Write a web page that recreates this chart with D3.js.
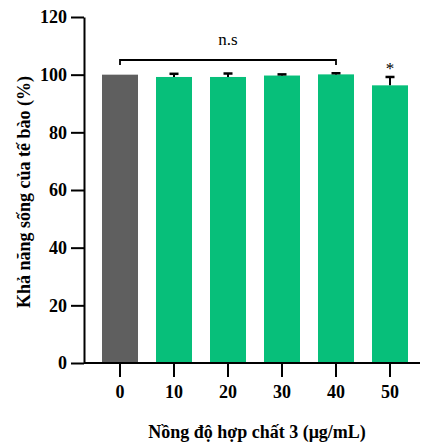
<!DOCTYPE html>
<html><head><meta charset="utf-8">
<script src="https://cdn.jsdelivr.net/npm/d3@7"></script>
<style>body{margin:0;background:#fff}svg{display:block}</style>
</head><body>
<svg id="c" width="424" height="445"></svg>
<script>
const categories = ["0","10","20","30","40","50"];
const values = [100, 99.2, 99.2, 99.7, 100.1, 96.3];
const errors = [0, 1.1, 1.2, 0.4, 0.4, 2.9];
const colors = ["#5f5f5f","#07bf7a","#07bf7a","#07bf7a","#07bf7a","#07bf7a"];
const yTicks = [0,20,40,60,80,100,120];
const yLabel = "Khả năng sống của tế bào (%)";
const xLabel = "Nồng độ hợp chất 3 (μg/mL)";

(function(){
const svg = d3.select("#c");
const font = "'Liberation Serif', 'Times New Roman', serif";
const mLeft = 84, mRight = 417, mTop = 17, mBottom = 363;
const x = d3.scaleBand().domain(categories).range([93, 417]).paddingInner(1/3).paddingOuter(1/6);
const y = d3.scaleLinear().domain([0,120]).range([mBottom, mTop]);

// bars
svg.selectAll("rect.bar").data(values).join("rect")
  .attr("x", (d,i)=>x(categories[i])).attr("width", x.bandwidth())
  .attr("y", d=>y(d)).attr("height", d=>y(0)-y(d))
  .attr("fill", (d,i)=>colors[i]);

// error bars
const eb = svg.append("g").attr("stroke","#000");
values.forEach((v,i)=>{
  if(!errors[i]) return;
  const cx = x(categories[i]) + x.bandwidth()/2;
  eb.append("line").attr("stroke-width",2).attr("x1",cx).attr("x2",cx).attr("y1",y(v)).attr("y2",y(v+errors[i]));
  eb.append("line").attr("stroke-width",2.5).attr("x1",cx-4.5).attr("x2",cx+4.5).attr("y1",y(v+errors[i])).attr("y2",y(v+errors[i]));
});

// y axis
const ya = svg.append("g").attr("transform",`translate(${mLeft},0)`)
  .call(d3.axisLeft(y).tickValues(yTicks).tickSize(13).tickPadding(4).tickSizeOuter(0));
ya.select(".domain").attr("stroke-width",2);
ya.selectAll(".tick line").attr("stroke-width",2);
ya.selectAll(".tick text").attr("font-family",font).attr("font-weight","bold").attr("font-size",18).attr("fill","#000");

// x axis
const xa = svg.append("g").attr("transform",`translate(0,${mBottom})`)
  .call(d3.axisBottom(x).tickSize(14).tickPadding(8).tickSizeOuter(0));
xa.select(".domain").attr("d",`M${mLeft},0H${mRight+3}`).attr("stroke-width",2);
xa.selectAll(".tick line").attr("stroke-width",2);
xa.selectAll(".tick text").attr("font-family",font).attr("font-weight","bold").attr("font-size",18).attr("fill","#000");

// bracket
const bx1 = x("0")+x.bandwidth()/2, bx2 = x("40")+x.bandwidth()/2, by = 60;
svg.append("path").attr("d",`M${bx1},${by+5}V${by}H${bx2}V${by+5}`)
  .attr("fill","none").attr("stroke","#000").attr("stroke-width",1.8);
svg.append("text").attr("x",(bx1+bx2)/2).attr("y",45).attr("text-anchor","middle")
  .attr("font-family",font).attr("font-size",17).text("n.s");
svg.append("text").attr("x",x("50")+x.bandwidth()/2).attr("y",y(values[5]+errors[5])-3).attr("text-anchor","middle")
  .attr("font-family",font).attr("font-size",17).text("*");

// axis titles
svg.append("text").attr("transform",`translate(30,192) rotate(-90)`).attr("text-anchor","middle")
  .attr("font-family",font).attr("font-weight","bold").attr("font-size",18).text(yLabel);
svg.append("text").attr("x",257).attr("y",438).attr("text-anchor","middle")
  .attr("font-family",font).attr("font-weight","bold").attr("font-size",18).text(xLabel);
})();
</script>
</body></html>
